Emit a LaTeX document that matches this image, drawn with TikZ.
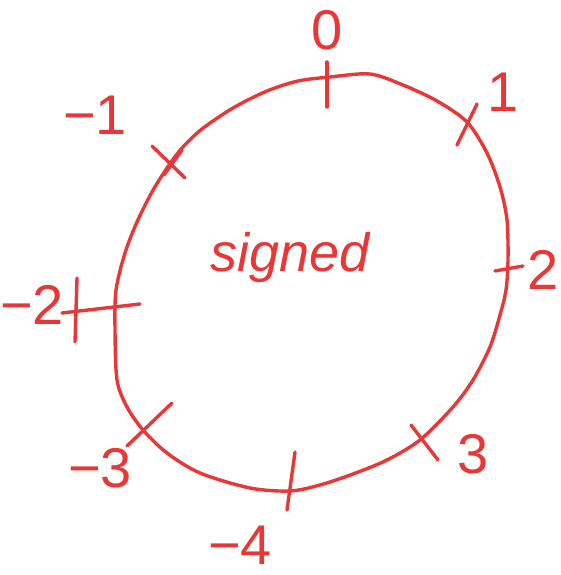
\documentclass[tikz,border=0pt]{standalone}
\usepackage{fontspec}
\setmainfont{Liberation Sans}
\usepackage{tikz}
\usetikzlibrary{positioning}
\definecolor{pen}{RGB}{233,55,55}

\begin{document}
\begin{tikzpicture}[
    x=1pt, y=-1pt,
    ink/.style={draw=pen,line width=3.4pt,line cap=round,line join=round},
    num/.style={text=pen,font=\fontsize{56}{56}\selectfont,inner sep=0pt}
]
\useasboundingbox (0,0) rectangle (560,575);

% the ring
\draw[ink] plot[smooth cycle,tension=0.5] coordinates {
    (330,77) (370,74) (403,85) (437,101) (467,122) (487,153) (500,187)
    (507,220) (508,260) (506,290) (500,315) (490,347) (473,380)
    (453,407) (420,440) (387,460) (353,474) (320,485) (290,491)
    (250,488) (200,473) (167,453) (143,430) (127,407) (117,380)
    (115,330) (116,290) (125,253) (137,222) (152,192) (167,168)
    (182,148) (202,129) (233,108) (267,91) (298,81)};

% ticks on the ring
\draw[ink] (327,62) -- (327,107);
\draw[ink] (457,145) -- (477,104);
\draw[ink] (495,271) -- (523,266);
\draw[ink] (411,425) -- (438,460);
\draw[ink] (295,452) -- (287,510);
\draw[ink] (172,403) -- (127,446);
\draw[ink] (62,313) -- (140,304);
\draw[ink] (77,278) -- (75,342);
\draw[ink] (152,146) -- (185,178);
\draw[ink] (182,150) -- (164,175);

% labels
\node[num] (zero) at (327,30) {0};
\node[num] (one) at (503,92) {1};
\node[num] (two) at (543,270) {2};
\node[num] (three) at (473,454) {3};
\node[num] (mfour) at (240,545) {−4};
\node[num] (mthree) at (100,468) {−3};
\node[num] (mtwo) at (32,305) {−2};
\node[num] (mone) at (95,115) {−1};
\node[num,font=\fontsize{54}{54}\selectfont\itshape] (signed) at (290,258) {signed};
\end{tikzpicture}
\end{document}
